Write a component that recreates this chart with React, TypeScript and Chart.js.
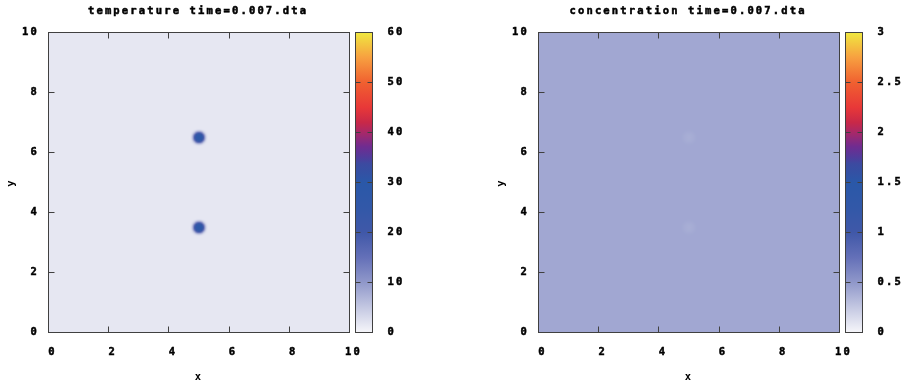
import { useEffect, useRef } from "react";
import { Chart, registerables } from "chart.js";

Chart.register(...registerables);

const FONT_FAMILY = "'DejaVu Sans Mono', 'Liberation Mono', monospace";
const FONT_SIZE = 10.5;
const LETTER_SPACING = 2.15;
const TEXT_STROKE = 0.5;

// axes of both maps
const axisMin = 0;
const axisMax = 10;
const axisStep = 2;
const xAxisLabel = "x";
const yAxisLabel = "y";

// field grid spacing (data units)
const gridStep = 0.05;

// centres of the two spots
const spotCentersX = [5.0, 5.0];
const spotCentersY = [6.5, 3.5];

// temperature map
const temperatureTitle = "temperature time=0.007.dta";
const temperatureRange = [0, 60];
const temperatureCbStep = 10;
const temperatureBackground = 1.6;
const temperatureSpotPatch = [
  [1.6, 1.7, 2, 2.5, 3.2, 3.5, 3.2, 2.5, 2, 1.7, 1.6],
  [1.7, 2.2, 3.5, 6, 8, 8.5, 8, 6, 3.5, 2.2, 1.7],
  [2, 3.5, 7, 13, 17.5, 19, 17.5, 13, 7, 3.5, 2],
  [2.5, 6, 13, 21, 25, 26, 25, 21, 13, 6, 2.5],
  [3.2, 8, 17.5, 25, 28, 28.5, 28, 25, 17.5, 8, 3.2],
  [3.5, 8.5, 19, 26, 28.5, 29, 28.5, 26, 19, 8.5, 3.5],
  [3.2, 8, 17.5, 25, 28, 28.5, 28, 25, 17.5, 8, 3.2],
  [2.5, 6, 13, 21, 25, 26, 25, 21, 13, 6, 2.5],
  [2, 3.5, 7, 13, 17.5, 19, 17.5, 13, 7, 3.5, 2],
  [1.7, 2.2, 3.5, 6, 8, 8.5, 8, 6, 3.5, 2.2, 1.7],
  [1.6, 1.7, 2, 2.5, 3.2, 3.5, 3.2, 2.5, 2, 1.7, 1.6],
];

// concentration map
const concentrationTitle = "concentration time=0.007.dta";
const concentrationRange = [0, 3];
const concentrationCbStep = 0.5;
const concentrationBackground = 0.42;
const concentrationSpotPatch = [
  [0.42, 0.42, 0.42, 0.42, 0.418, 0.418, 0.418, 0.42, 0.42, 0.42, 0.42],
  [0.42, 0.42, 0.417, 0.413, 0.41, 0.41, 0.41, 0.413, 0.417, 0.42, 0.42],
  [0.42, 0.417, 0.41, 0.404, 0.401, 0.4, 0.401, 0.404, 0.41, 0.417, 0.42],
  [0.42, 0.413, 0.404, 0.397, 0.393, 0.392, 0.393, 0.397, 0.404, 0.413, 0.42],
  [0.418, 0.41, 0.401, 0.393, 0.389, 0.387, 0.389, 0.393, 0.401, 0.41, 0.418],
  [0.418, 0.41, 0.4, 0.392, 0.387, 0.385, 0.387, 0.392, 0.4, 0.41, 0.418],
  [0.418, 0.41, 0.401, 0.393, 0.389, 0.387, 0.389, 0.393, 0.401, 0.41, 0.418],
  [0.42, 0.413, 0.404, 0.397, 0.393, 0.392, 0.393, 0.397, 0.404, 0.413, 0.42],
  [0.42, 0.417, 0.41, 0.404, 0.401, 0.4, 0.401, 0.404, 0.41, 0.417, 0.42],
  [0.42, 0.42, 0.417, 0.413, 0.41, 0.41, 0.41, 0.413, 0.417, 0.42, 0.42],
  [0.42, 0.42, 0.42, 0.42, 0.418, 0.418, 0.418, 0.42, 0.42, 0.42, 0.42],
];

// colour palette (fraction of range -> colour)
const paletteStops = [0, 1 / 12, 1 / 6, 1 / 4, 1 / 3, 5 / 12, 1 / 2, 0.5625, 7 / 12, 0.62, 2 / 3, 0.7, 3 / 4, 5 / 6, 11 / 12, 1];
const paletteColors = [
  "#f6f6fa", "#c4c8e2", "#9098ca", "#6470b8", "#4058a8", "#3258a8", "#2a58a8", "#3c4aa0",
  "#503c9c", "#702c90", "#a82868", "#c82848", "#e83838", "#f06030", "#f7a040", "#f0e840",
];

function hexToRgb(h: string): number[] {
  return [parseInt(h.slice(1, 3), 16), parseInt(h.slice(3, 5), 16), parseInt(h.slice(5, 7), 16)];
}
const paletteRgb = paletteColors.map(hexToRgb);

function paletteColor(t: number): number[] {
  const tt = Math.max(0, Math.min(1, t));
  for (let k = 0; k < paletteStops.length - 1; k++) {
    if (tt <= paletteStops[k + 1]) {
      const f = (tt - paletteStops[k]) / (paletteStops[k + 1] - paletteStops[k]);
      const a = paletteRgb[k];
      const b = paletteRgb[k + 1];
      return [0, 1, 2].map((c) => Math.round(a[c] + (b[c] - a[c]) * f));
    }
  }
  return paletteRgb[paletteRgb.length - 1];
}

function buildField(bg: number, patch: number[][]) {
  const n = Math.round((axisMax - axisMin) / gridStep) + 1;
  const field = new Array(n * n).fill(bg);
  const half = (patch.length - 1) / 2;
  spotCentersX.forEach((cx, s) => {
    const ci = Math.round((cx - axisMin) / gridStep);
    const cj = Math.round((spotCentersY[s] - axisMin) / gridStep);
    for (let r = 0; r < patch.length; r++) {
      for (let c = 0; c < patch[r].length; c++) {
        const i = ci + c - half;
        const j = cj + half - r;
        if (i >= 0 && i < n && j >= 0 && j < n) field[j * n + i] = patch[r][c];
      }
    }
  });
  return { n, field };
}

const font = { family: FONT_FAMILY, weight: "bold" as const, size: FONT_SIZE };
const fmt = (v: any) => String(Math.round(Number(v) * 1000) / 1000);
const tickText = { font, color: "#000", textStrokeColor: "#000", textStrokeWidth: TEXT_STROKE };

function makeChart(canvas: HTMLCanvasElement, title: string, range: number[], cbStep: number, bg: number, patch: number[][]) {
  const { n, field } = buildField(bg, patch);
  const W = canvas.width;
  const plotRightLocal = 349.5;

  const plugin = {
    id: "heatmap",
    beforeDraw(chart: any) {
      chart.ctx.letterSpacing = LETTER_SPACING + "px";
    },
    beforeDatasetsDraw(chart: any) {
      const { ctx, chartArea, scales } = chart;
      const xs = scales.x;
      const ys = scales.y;
      const off = document.createElement("canvas");
      off.width = n;
      off.height = n;
      const octx = off.getContext("2d")!;
      const img = octx.createImageData(n, n);
      for (let j = 0; j < n; j++) {
        for (let i = 0; i < n; i++) {
          const v = field[j * n + i];
          const col = paletteColor((v - range[0]) / (range[1] - range[0]));
          const row = n - 1 - j;
          const p = (row * n + i) * 4;
          img.data[p] = col[0];
          img.data[p + 1] = col[1];
          img.data[p + 2] = col[2];
          img.data[p + 3] = 255;
        }
      }
      octx.putImageData(img, 0, 0);
      const left = xs.getPixelForValue(axisMin - gridStep / 2);
      const right = xs.getPixelForValue(axisMax + gridStep / 2);
      const top = ys.getPixelForValue(axisMax + gridStep / 2);
      const bottom = ys.getPixelForValue(axisMin - gridStep / 2);
      ctx.save();
      ctx.beginPath();
      ctx.rect(chartArea.left, chartArea.top, chartArea.right - chartArea.left, chartArea.bottom - chartArea.top);
      ctx.clip();
      ctx.imageSmoothingEnabled = true;
      ctx.imageSmoothingQuality = "high";
      ctx.drawImage(off, left, top, right - left, bottom - top);
      ctx.restore();
    },
    afterDatasetsDraw(chart: any) {
      const { ctx, chartArea, scales } = chart;
      const xs = scales.x;
      const ys = scales.y;
      const tl = 6;
      ctx.save();
      ctx.strokeStyle = "#404040";
      ctx.lineWidth = 1;
      ctx.beginPath();
      xs.ticks.forEach((t: any) => {
        const px = Math.floor(xs.getPixelForValue(t.value)) + 0.5;
        ctx.moveTo(px, chartArea.bottom);
        ctx.lineTo(px, chartArea.bottom - tl);
        ctx.moveTo(px, chartArea.top);
        ctx.lineTo(px, chartArea.top + tl);
      });
      ys.ticks.forEach((t: any) => {
        const py = Math.floor(ys.getPixelForValue(t.value)) + 0.5;
        ctx.moveTo(chartArea.left, py);
        ctx.lineTo(chartArea.left + tl, py);
        ctx.moveTo(chartArea.right, py);
        ctx.lineTo(chartArea.right - tl, py);
      });
      ctx.stroke();
      ctx.strokeRect(chartArea.left, chartArea.top, chartArea.right - chartArea.left, chartArea.bottom - chartArea.top);
      ctx.restore();
    },
    afterDraw(chart: any) {
      const { ctx, chartArea, scales } = chart;
      const cb = scales.cb;
      const x0 = chartArea.right + 6;
      const x1 = chartArea.right + 23;
      const top = cb.getPixelForValue(range[1]);
      const bottom = cb.getPixelForValue(range[0]);
      ctx.save();
      const g = ctx.createLinearGradient(0, bottom, 0, top);
      paletteStops.forEach((s, k) => g.addColorStop(s, paletteColors[k]));
      ctx.fillStyle = g;
      ctx.fillRect(x0, top, x1 - x0, bottom - top);
      ctx.strokeStyle = "#404040";
      ctx.lineWidth = 1;
      ctx.beginPath();
      cb.ticks.forEach((t: any) => {
        const py = Math.floor(cb.getPixelForValue(t.value)) + 0.5;
        ctx.moveTo(x0, py);
        ctx.lineTo(x0 + 5, py);
        ctx.moveTo(x1, py);
        ctx.lineTo(x1 - 5, py);
      });
      ctx.stroke();
      ctx.strokeRect(x0, top, x1 - x0, bottom - top);
      // title
      ctx.letterSpacing = LETTER_SPACING + "px";
      ctx.fillStyle = "#000";
      ctx.strokeStyle = "#000";
      ctx.lineWidth = TEXT_STROKE;
      ctx.font = `bold ${FONT_SIZE}px ${FONT_FAMILY}`;
      ctx.textAlign = "center";
      ctx.textBaseline = "alphabetic";
      const tx = (chartArea.left + chartArea.right) / 2 - 2 + LETTER_SPACING / 2;
      ctx.strokeText(title, tx, 13.5);
      ctx.fillText(title, tx, 13.5);
      ctx.restore();
    },
  };

  return new Chart(canvas, {
    type: "scatter",
    data: { datasets: [] },
    plugins: [plugin],
    options: {
      animation: false,
      responsive: false,
      devicePixelRatio: 1,
      layout: { padding: { top: 32.5, left: 0, right: 0, bottom: 0 } },
      plugins: { legend: { display: false }, title: { display: false }, tooltip: { enabled: false } },
      scales: {
        x: {
          type: "linear",
          position: "bottom",
          min: axisMin,
          max: axisMax,
          ticks: { stepSize: axisStep, ...tickText, padding: 13.5, labelOffset: 4, maxRotation: 0, callback: fmt },
          grid: { display: false, drawTicks: false },
          border: { display: false },
          title: { display: true, text: xAxisLabel, font, color: "#000", padding: { top: 0, bottom: 3 } },
          afterFit: (s: any) => {
            s.height = 54.5;
          },
        },
        y: {
          type: "linear",
          position: "left",
          min: axisMin,
          max: axisMax,
          ticks: { stepSize: axisStep, ...tickText, padding: 9.5, callback: fmt },
          grid: { display: false, drawTicks: false },
          border: { display: false },
          title: { display: true, text: yAxisLabel, font, color: "#000", padding: { top: 4.5, bottom: 0 } },
          afterFit: (s: any) => {
            s.width = 48.5;
          },
        },
        cb: {
          type: "linear",
          position: "right",
          display: true,
          min: range[0],
          max: range[1],
          ticks: { stepSize: cbStep, ...tickText, padding: 0, callback: fmt },
          grid: { display: false, drawTicks: true, tickLength: 38 },
          border: { display: false },
          afterFit: (s: any) => {
            s.width = W - plotRightLocal;
          },
        },
      },
    } as any,
  });
}

export default function App() {
  const leftRef = useRef<HTMLCanvasElement>(null);
  const rightRef = useRef<HTMLCanvasElement>(null);

  useEffect(() => {
    const c1 = makeChart(leftRef.current!, temperatureTitle, temperatureRange, temperatureCbStep, temperatureBackground, temperatureSpotPatch);
    const c2 = makeChart(rightRef.current!, concentrationTitle, concentrationRange, concentrationCbStep, concentrationBackground, concentrationSpotPatch);
    return () => {
      c1.destroy();
      c2.destroy();
    };
  }, []);

  return (
    <div style={{ position: "absolute", left: 0, top: 0, width: 909, height: 387, background: "#fff", overflow: "hidden" }}>
      <canvas ref={leftRef} width={490} height={387} style={{ position: "absolute", left: 0, top: 0 }} />
      <canvas ref={rightRef} width={419} height={387} style={{ position: "absolute", left: 490, top: 0 }} />
    </div>
  );
}
